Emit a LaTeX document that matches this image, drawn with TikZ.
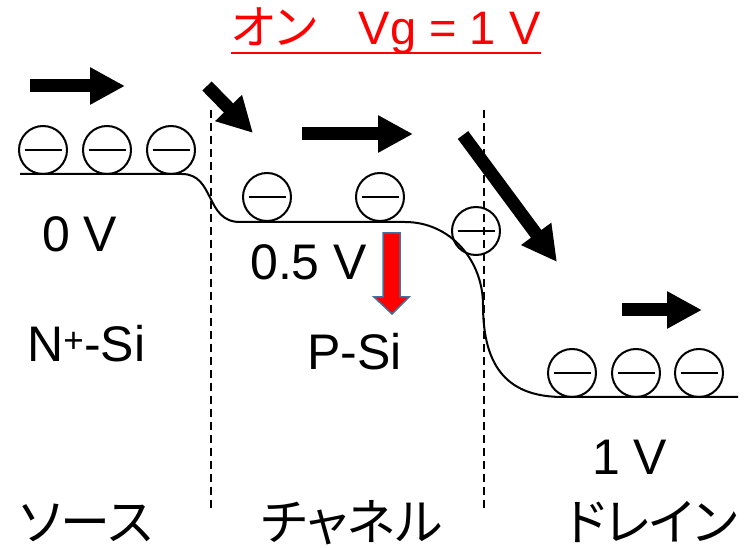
\documentclass[tikz,border=0pt]{standalone}
\usepackage{fontspec}
\setmainfont{Liberation Sans}
\newfontfamily\jp[RawFeature=+palt]{Noto Sans CJK JP}
\usetikzlibrary{arrows.meta,calc}

\definecolor{gateon}{RGB}{255,0,0}
\definecolor{outlineblue}{RGB}{65,113,156}

\tikzset{
  electron/.style={circle, draw, line width=2pt, minimum size=48pt, inner sep=0pt,
    path picture={\draw[line width=2pt] ([xshift=5.5pt]path picture bounding box.west) -- ([xshift=-5.5pt]path picture bounding box.east);}},
  push/.style={line width=13pt, -{Triangle[length=35pt,width=35pt]}},
  lbl/.style={inner sep=0pt, font=\fontsize{50}{60}\selectfont},
  jlbl/.style={inner sep=0pt, anchor=base, font=\jp\fontsize{50}{60}\selectfont},
  border/.style={line width=1.5pt, dash pattern={on 8pt off 5pt}},
}

\begin{document}
\begin{tikzpicture}[x=1pt,y=1pt,yscale=-1,xscale=1]
\useasboundingbox (0,0) rectangle (748,548);

%Straight Lines: region borders
\draw [border] (211,110) -- (211,510);
\draw [border] (484,110) -- (484,510);

%Curve: band edge
\draw [line width=2pt] (20,174) -- (182,174) .. controls (215,174) and (205,222) .. (240,222)
  -- (405,222) .. controls (450,222) and (483,260) .. (483,305)
  .. controls (483,370) and (510,397) .. (563,397) -- (738,397);

%Shape: electrons
\node [electron] (s1) at (43,150) {};
\node [electron] (s2) at (107,150) {};
\node [electron] (s3) at (171,150) {};
\node [electron] (c1) at (267,197) {};
\node [electron] (c2) at (380,197) {};
\node [electron] (c3) at (476,231) {};
\node [electron] (d1) at (572,373) {};
\node [electron] (d2) at (636,373) {};
\node [electron] (d3) at (699,373) {};

%Straight Lines: electron flow
\coordinate (a1) at (30,86);   \coordinate (b1) at (125,86);
\coordinate (a2) at (207,86);  \coordinate (b2) at (253,133);
\coordinate (a3) at (302,134); \coordinate (b3) at (413,134);
\coordinate (a4) at (463,135); \coordinate (b4) at (557,262);
\coordinate (a5) at (622,310); \coordinate (b5) at (702,310);
\draw [push] (a1) -- (b1);
\draw [push] (a2) -- (b2);
\draw [push] (a3) -- (b3);
\draw [push] (a4) -- (b4);
\draw [push] (a5) -- (b5);

%Shape: barrier lowering
\draw [draw=outlineblue, fill=gateon, line width=1.5pt, line join=miter]
  (383,233) -- (400,233) -- (400,297) -- (409,297) -- (392,314) -- (374,297) -- (383,297) -- cycle;

% Text Node
\node [lbl, text=gateon, anchor=base, font=\fontsize{47}{56}\selectfont] (title) at (386,45) {{\jp オン}\hspace{0.9em}Vg = 1 V};
\draw [gateon, line width=2.5pt] ($(title.base west)+(0,8)$) -- ($(title.base east)+(0,8)$);
% Text Node
\node [lbl, anchor=base west] (v0) at (42,252) {0 V};
\node [lbl, anchor=base west] (vc) at (250,280) {0.5 V};
\node [lbl, anchor=base west] (vd) at (592,475) {1 V};
\node [lbl, anchor=base west] (nsi) at (27,362) {N\textsuperscript{+}-Si};
\node [lbl, anchor=base west] (psi) at (307,370) {P-Si};
% Text Node
\node [jlbl] (src) at (86,540) {ソース};
\node [jlbl] (chn) at (352,540) {チャネル};
\node [jlbl] (drn) at (652,540) {ドレイン};

\end{tikzpicture}
\end{document}
